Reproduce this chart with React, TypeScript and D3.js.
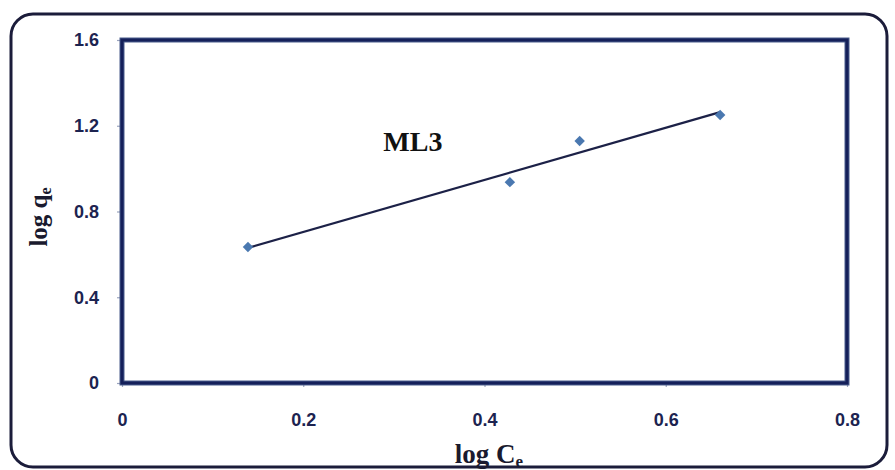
import React, { useEffect, useRef } from 'react';
import * as d3 from 'd3';

// data
const logCe = [0.139, 0.428, 0.505, 0.66];
const logQe = [0.634, 0.937, 1.129, 1.25];
const xTicks = [0, 0.2, 0.4, 0.6, 0.8];
const yTicks = [0, 0.4, 0.8, 1.2, 1.6];
const seriesName = 'ML3';

const W = 895, H = 470;
const margin = { top: 40, right: 48, bottom: 87, left: 122 };

const App = () => {
  const ref = useRef<SVGSVGElement>(null);

  useEffect(() => {
    const svg = d3.select(ref.current);
    svg.selectAll('*').remove();

    const w = W - margin.left - margin.right;
    const h = H - margin.top - margin.bottom;

    const x = d3.scaleLinear().domain([0, 0.8]).range([0, w]);
    const y = d3.scaleLinear().domain([0, 1.6]).range([h, 0]);

    // outer rounded frame
    svg.append('rect')
      .attr('x', 11).attr('y', 14)
      .attr('width', 876).attr('height', 453)
      .attr('rx', 22).attr('ry', 22)
      .attr('fill', '#fff')
      .attr('stroke', '#1b1c3a')
      .attr('stroke-width', 3);

    const g = svg.append('g').attr('transform', `translate(${margin.left},${margin.top})`);

    // axes
    const xAxis = g.append('g')
      .attr('transform', `translate(0,${h})`)
      .call(d3.axisBottom(x).tickValues(xTicks).tickSize(4).tickPadding(26).tickFormat(d3.format('')));
    const yAxis = g.append('g')
      .call(d3.axisLeft(y).tickValues(yTicks).tickSize(5).tickPadding(18).tickFormat(d3.format('')));

    [xAxis, yAxis].forEach(a => {
      a.select('.domain').remove();
      a.selectAll('line').attr('stroke', '#9aa3bd').attr('stroke-width', 1.2);
      a.selectAll('text')
        .attr('fill', '#1c2350')
        .style('font-family', '"Liberation Sans", Arial, sans-serif')
        .style('font-weight', 'bold')
        .style('font-size', '18px');
    });

    // plot frame
    g.append('rect')
      .attr('x', 0).attr('y', 0)
      .attr('width', w).attr('height', h)
      .attr('fill', 'none')
      .attr('stroke', '#4a5c8c')
      .attr('stroke-width', 5);
    g.append('rect')
      .attr('x', 0).attr('y', 0)
      .attr('width', w).attr('height', h)
      .attr('fill', 'none')
      .attr('stroke', '#15205a')
      .attr('stroke-width', 3);

    // linear trendline
    const mx = d3.mean(logCe) as number;
    const my = d3.mean(logQe) as number;
    const sxy = d3.sum(logCe, (d, i) => (d - mx) * (logQe[i] - my));
    const sxx = d3.sum(logCe, d => (d - mx) * (d - mx));
    const slope = sxy / sxx;
    const icpt = my - slope * mx;
    const ext = d3.extent(logCe) as [number, number];
    const line = d3.line<number>().x(d => x(d)).y(d => y(slope * d + icpt));
    g.append('path')
      .datum(ext)
      .attr('d', line)
      .attr('fill', 'none')
      .attr('stroke', '#1c2147')
      .attr('stroke-width', 2.2);

    // markers
    g.selectAll('.pt')
      .data(logCe)
      .enter().append('path')
      .attr('class', 'pt')
      .attr('transform', (d, i) => `translate(${x(d)},${y(logQe[i])})`)
      .attr('d', d3.symbol().type(d3.symbolDiamond2).size(70))
      .attr('fill', '#4a78b0');

    const serif = '"Liberation Serif", "Times New Roman", serif';

    // series label
    g.append('text')
      .attr('x', x(0.321)).attr('y', y(1.08))
      .attr('text-anchor', 'middle')
      .style('font-family', serif)
      .style('font-weight', 'bold')
      .style('font-size', '28px')
      .attr('fill', '#111')
      .text(seriesName);

    // axis titles
    const xt = svg.append('text')
      .attr('x', 489).attr('y', 463)
      .attr('text-anchor', 'middle')
      .style('font-family', serif)
      .style('font-weight', 'bold')
      .style('font-size', '27px')
      .attr('fill', '#1a1a2e');
    xt.append('tspan').text('log C');
    xt.append('tspan').attr('dy', 4).style('font-size', '17px').text('e');

    const yt = svg.append('text')
      .attr('transform', `translate(47,217) rotate(-90)`)
      .attr('text-anchor', 'middle')
      .style('font-family', serif)
      .style('font-weight', 'bold')
      .style('font-size', '25px')
      .attr('fill', '#1a1a2e');
    yt.append('tspan').text('log q');
    yt.append('tspan').attr('dy', 4).style('font-size', '16px').text('e');
  }, []);

  return (
    <svg ref={ref} width={W} height={H} style={{ position: 'absolute', left: 0, top: 0, background: '#fff' }} />
  );
};

export default App;
